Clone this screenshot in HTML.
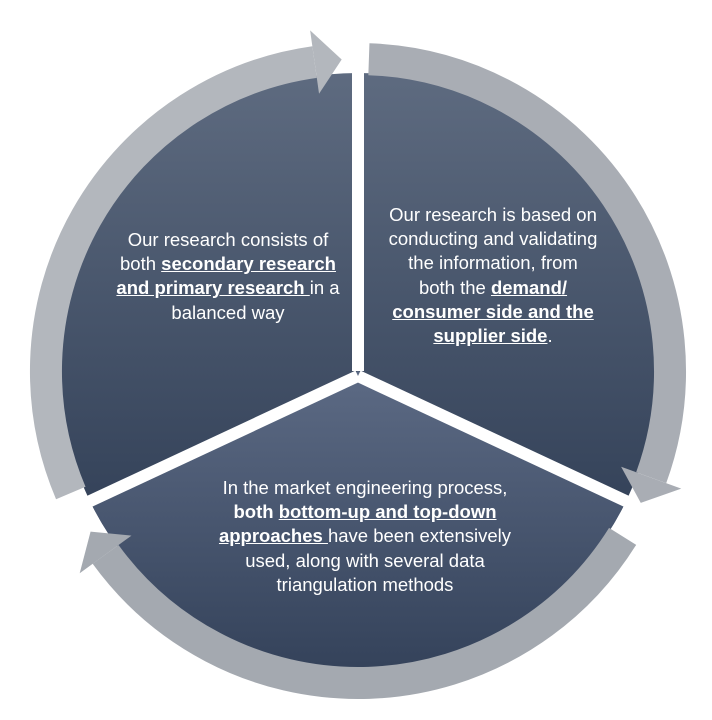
<!DOCTYPE html>
<html><head><meta charset="utf-8"><style>
body{margin:0;background:#fff;width:712px;height:720px;position:relative;overflow:hidden;font-family:"Liberation Sans",sans-serif;}
.t{position:absolute;color:#fff;font-size:18.5px;line-height:24.2px;text-align:center;white-space:nowrap;}
.t b{text-decoration:underline;}
</style></head><body>
<svg width="712" height="720" style="position:absolute;left:0;top:0">
<defs>
<linearGradient id="gt" x1="0" y1="72" x2="0" y2="500" gradientUnits="userSpaceOnUse"><stop offset="0" stop-color="#5e6b80"/><stop offset="1" stop-color="#35435a"/></linearGradient>
<linearGradient id="gb" x1="0" y1="380" x2="0" y2="672" gradientUnits="userSpaceOnUse"><stop offset="0" stop-color="#5b6983"/><stop offset="1" stop-color="#34425a"/></linearGradient>
</defs>
<circle cx="358" cy="371" r="298" fill="url(#gt)"/>
<path d="M358 371 L628.1 496.9 A298 298 0 0 1 87.9 496.9 Z" fill="url(#gb)"/>
<g stroke="#fff" stroke-width="12">
<line x1="358" y1="371" x2="358" y2="20"/>
<line x1="358" y1="376" x2="690" y2="531"/>
<line x1="358" y1="376" x2="26" y2="531"/>
</g>
<g transform="translate(358 371)">
<g transform="rotate(262)" fill="#b3b7bd">
<path d="M-80.8 -301.4 A312 312 0 0 1 312 0" fill="none" stroke="#b3b7bd" stroke-width="32"/>
<polygon points="280,0 344,0 310.8,27.2"/>
</g>
<g transform="rotate(20)" fill="#a9adb4">
<path d="M-96.4 -296.7 A312 312 0 0 1 312 0" fill="none" stroke="#a9adb4" stroke-width="32"/>
<polygon points="280,0 344,0 310.8,27.2"/>
</g>
<g transform="rotate(144)" fill="#a4a9b0">
<path d="M-116.9 -289.3 A312 312 0 0 1 312 0" fill="none" stroke="#a4a9b0" stroke-width="32"/>
<polygon points="280,0 344,0 310.8,27.2"/>
</g>
</g>
</svg>
<div class="t" style="left:78px;top:228px;width:300px;">Our research consists of<br>both <b>secondary research<br>and primary research </b>in a<br>balanced way</div>
<div class="t" style="left:343px;top:203px;width:300px;">Our research is based on<br>conducting and validating<br>the information, from<br>both the <b>demand/<br>consumer side and the<br>supplier side</b>.</div>
<div class="t" style="left:165px;top:476px;width:400px;">In the market engineering process,<br><b style="text-decoration:none">both </b><b>bottom-up and top-down<br>approaches </b>have been extensively<br>used, along with several data<br>triangulation methods</div>
</body></html>
